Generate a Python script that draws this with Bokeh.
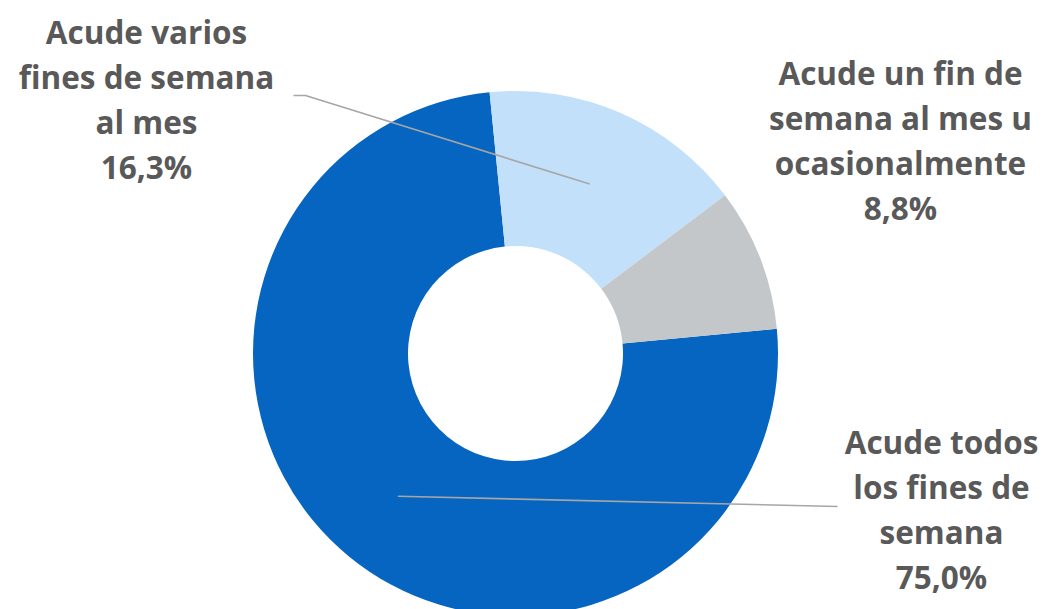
import numpy as np
from bokeh.plotting import figure
from bokeh.models import Range1d, ColumnDataSource
from bokeh.core.properties import value
from bokeh.embed import file_html
from bokeh.resources import INLINE

# ---- data ----
categories = ["Acude todos los fines de semana",
              "Acude varios fines de semana al mes",
              "Acude un fin de semana al mes u ocasionalmente"]
label_lines = [["Acude todos", "los fines de", "semana"],
               ["Acude varios", "fines de semana", "al mes"],
               ["Acude un fin de", "semana al mes u", "ocasionalmente"]]
values = [75.0, 16.3, 8.8]
pct_labels = ["75,0%", "16,3%", "8,8%"]
colors = ["#0565C0", "#C3E0FA", "#C4C7CA"]

# ---- layout ----
W, H = 1045, 609
def Y(sy):  # screen y -> data y
    return H - sy

cx, cy = 515, Y(353)
R_out, R_in = 262.5, 107.5
start_cw = 84.6  # degrees clockwise from top where first slice starts

p = figure(width=W, height=H, output_backend="svg", toolbar_location=None,
           x_range=Range1d(0, W), y_range=Range1d(0, H),
           x_axis_type=None, y_axis_type=None, min_border=0,
           outline_line_color=None, background_fill_color="white")
p.grid.visible = False

vals = np.array(values)
frac = vals / vals.sum()
cum_end = start_cw + np.cumsum(frac) * 360.0
cum_start = cum_end - frac * 360.0
start_math = np.deg2rad(90.0 - cum_end)
end_math = np.deg2rad(90.0 - cum_start)

src = ColumnDataSource(dict(start=start_math, end=end_math, color=colors,
                            cat=categories))
p.annular_wedge(x=cx, y=cy, inner_radius=R_in, outer_radius=R_out,
                start_angle="start", end_angle="end", fill_color="color",
                line_color=None, source=src)

# anchors of leader lines: middle of ring at slice mid angle
mid_math = (start_math + end_math) / 2
R_mid = (R_out + R_in) / 2
ax = cx + R_mid * np.cos(mid_math)
ay = cy + R_mid * np.sin(mid_math)

lc = "#A6A6A6"
# leader for slice 1 ("varios")
p.line(x=[293, 305, ax[1]], y=[Y(95), Y(95), ay[1]], line_color=lc, line_width=1.6)
# leader for slice 0 ("todos")
p.line(x=[837, ax[0]], y=[Y(506), ay[0]], line_color=lc, line_width=1.6)

# labels
label_pos = [(941, 441), (146, 31), (900, 72)]
line_gap = 45
xs, ys, txt = [], [], []
for i in range(3):
    lx, ly = label_pos[i]
    lines = label_lines[i] + [pct_labels[i]]
    for k, t in enumerate(lines):
        xs.append(lx)
        ys.append(Y(ly + k * line_gap))
        txt.append(t)
p.text(x=xs, y=ys, text=txt, text_font=value("Open Sans"), text_font_style="bold",
       text_font_size="31.5px", text_color="#595959", text_align="center",
       text_baseline="middle")

open("out.html", "w").write(file_html(p, INLINE))
